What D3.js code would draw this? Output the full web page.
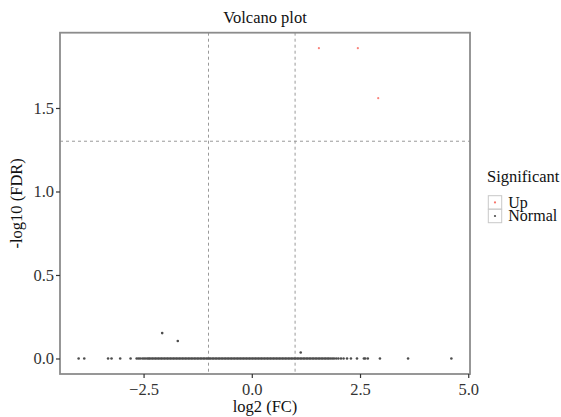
<!DOCTYPE html>
<html lang="en">
<head>
    <meta charset="UTF-8">
    <title>Volcano plot</title>
    <script src="https://cdnjs.cloudflare.com/ajax/libs/d3/7.8.5/d3.min.js"></script>
    <style>
        body { margin: 0; background: #fff; }
        svg { display: block; font-family: "Liberation Serif", "DejaVu Serif", serif; }
    </style>
</head>
<body>
<svg id="chart" width="561" height="417"></svg>
<script>
    // significant (Up) genes
    let upX = [1.55, 2.45, 2.92];
    let upY = [1.858, 1.858, 1.559];

    // normal genes lifted a bit off zero
    let normalX = [-2.07, -1.71, 1.13];
    let normalY = [0.152, 0.105, 0.036];

    // normal genes sitting on -log10(FDR) = 0, read along the bottom band
    let zeroX = [-4.00, -3.87, -3.32, -3.24, -3.04, -2.80, -2.66, -2.62, -2.58, -2.53, -2.49, -2.45, -2.41, -2.38,
        -2.35, -2.31, -2.28, -2.24, -2.21, -2.17, -2.14, -2.10, -2.07, -2.03, -2.00, -1.96, -1.93, -1.89, -1.86,
        -1.82, -1.79, -1.75, -1.72, -1.68, -1.65, -1.61, -1.58, -1.54, -1.51, -1.47, -1.44, -1.40, -1.37, -1.33,
        -1.30, -1.26, -1.23, -1.19, -1.16, -1.12, -1.09, -1.05, -1.02, -0.98, -0.95, -0.91, -0.88, -0.84, -0.81,
        -0.77, -0.74, -0.70, -0.67, -0.63, -0.60, -0.56, -0.53, -0.49, -0.46, -0.42, -0.39, -0.35, -0.32, -0.28,
        -0.25, -0.21, -0.18, -0.14, -0.11, -0.07, -0.04, 0.00, 0.03, 0.07, 0.10, 0.14, 0.17, 0.21, 0.24, 0.28,
        0.31, 0.35, 0.38, 0.42, 0.45, 0.49, 0.52, 0.56, 0.59, 0.63, 0.66, 0.70, 0.73, 0.77, 0.80, 0.84, 0.87,
        0.91, 0.94, 0.98, 1.01, 1.05, 1.08, 1.12, 1.15, 1.19, 1.22, 1.26, 1.29, 1.33, 1.36, 1.40, 1.43, 1.47,
        1.50, 1.54, 1.57, 1.61, 1.64, 1.68, 1.71, 1.75, 1.78, 1.82, 1.86, 1.90, 1.95, 2.00, 2.06, 2.12,
        2.20, 2.29, 2.43, 2.59, 2.62, 2.68, 2.96, 3.61, 4.61];

    let xTicks = [-2.5, 0.0, 2.5, 5.0];
    let yTicks = [0.0, 0.5, 1.0, 1.5];
    let fcCut = [-1, 1];
    let fdrCut = 1.301;

    let legendLabels = ["Up", "Normal"];
    let legendColors = ["#f8766d", "#4d4d4d"];

    let points = [];
    for (let i = 0; i < upX.length; i++) points.push({x: upX[i], y: upY[i], g: "Up"});
    for (let i = 0; i < normalX.length; i++) points.push({x: normalX[i], y: normalY[i], g: "Normal"});
    for (let i = 0; i < zeroX.length; i++) points.push({x: zeroX[i], y: 0, g: "Normal"});

    let pLeft = 60, pRight = 470, pTop = 32.7, pBottom = 374;
    let fs = "16.5px";

    // ggplot style 5% padding
    let xe = d3.extent(points, d => d.x);
    let ye = d3.extent(points, d => d.y);
    let xp = (xe[1] - xe[0]) * 0.05;
    let yp = (ye[1] - ye[0]) * 0.05;

    let x = d3.scaleLinear().domain([xe[0] - xp, xe[1] + xp]).range([pLeft, pRight]);
    let y = d3.scaleLinear().domain([ye[0] - yp, ye[1] + yp]).range([pBottom, pTop]);
    let color = d3.scaleOrdinal().domain(legendLabels).range(legendColors);

    let svg = d3.select("#chart");

    // dashed cut-off lines
    svg.selectAll(".vcut").data(fcCut).enter().append("line")
        .attr("x1", d => x(d)).attr("x2", d => x(d))
        .attr("y1", pTop).attr("y2", pBottom)
        .attr("stroke", "#999").attr("stroke-width", 1).attr("stroke-dasharray", "3,3");

    svg.append("line")
        .attr("x1", pLeft).attr("x2", pRight)
        .attr("y1", y(fdrCut)).attr("y2", y(fdrCut))
        .attr("stroke", "#999").attr("stroke-width", 1).attr("stroke-dasharray", "3,3");

    // points
    svg.append("g").selectAll("circle").data(points).enter().append("circle")
        .attr("cx", d => x(d.x))
        .attr("cy", d => y(d.y))
        .attr("r", d => d.g === "Up" ? 1.1 : 1.3)
        .attr("fill", d => color(d.g))
        .attr("opacity", d => d.g === "Up" ? 0.9 : 1);

    // panel border
    svg.append("rect")
        .attr("x", pLeft).attr("y", pTop)
        .attr("width", pRight - pLeft).attr("height", pBottom - pTop)
        .attr("fill", "none").attr("stroke", "#8c8c8c").attr("stroke-width", 1.8);

    // axes
    let xAxis = svg.append("g")
        .attr("transform", "translate(0," + pBottom + ")")
        .call(d3.axisBottom(x).tickValues(xTicks).tickFormat(d3.format(".1f")).tickSize(4).tickPadding(5));
    let yAxis = svg.append("g")
        .attr("transform", "translate(" + pLeft + ",0)")
        .call(d3.axisLeft(y).tickValues(yTicks).tickFormat(d3.format(".1f")).tickSize(4).tickPadding(2));

    [xAxis, yAxis].forEach(function (a) {
        a.select(".domain").remove();
        a.selectAll(".tick line").attr("stroke", "#333").attr("stroke-width", 1.2);
        a.selectAll(".tick text").attr("fill", "#333").style("font-size", fs)
            .style("font-family", "Liberation Serif");
    });

    // titles
    svg.append("text").attr("x", (pLeft + pRight) / 2).attr("y", 23)
        .attr("text-anchor", "middle").style("font-size", fs).attr("fill", "#111")
        .text("Volcano plot");

    svg.append("text").attr("x", (pLeft + pRight) / 2).attr("y", 412)
        .attr("text-anchor", "middle").style("font-size", fs).attr("fill", "#111")
        .text("log2 (FC)");

    svg.append("text")
        .attr("transform", "translate(22," + ((pTop + pBottom) / 2) + ") rotate(-90)")
        .attr("text-anchor", "middle").style("font-size", fs).attr("fill", "#111")
        .text("-log10 (FDR)");

    // legend
    let lg = svg.append("g").attr("transform", "translate(487,0)");
    lg.append("text").attr("x", 0).attr("y", 182)
        .style("font-size", fs).attr("fill", "#111").text("Significant");

    let items = lg.selectAll(".item").data(legendLabels).enter().append("g")
        .attr("transform", (d, i) => "translate(1.3," + (195.7 + i * 13.6) + ")");
    items.append("rect").attr("width", 13.4).attr("height", 13.4)
        .attr("fill", "#fff").attr("stroke", "#c8c8c8").attr("stroke-width", 1);
    items.append("circle").attr("cx", 6.7).attr("cy", 6.7).attr("r", 1.1)
        .attr("fill", d => color(d));
    items.append("text").attr("x", 20).attr("y", 11.8)
        .style("font-size", "16px").attr("fill", "#111").text(d => d);
</script>
</body>
</html>
